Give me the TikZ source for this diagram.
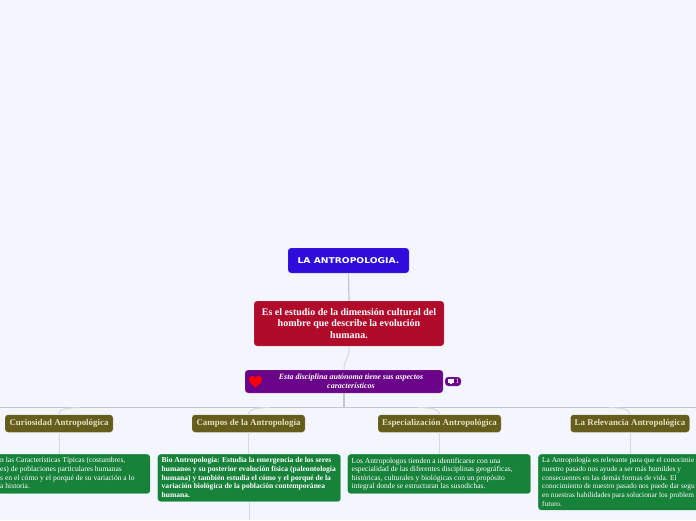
\documentclass[tikz,border=0pt]{standalone}
\usepackage{fontspec}
\setmainfont{Liberation Serif}
\newfontfamily\rootfont[FakeStretch=1.15]{DejaVu Sans}
\definecolor{fondo}{HTML}{F3F6FF}
\definecolor{raiz}{HTML}{2F0CDB}
\definecolor{rojo}{HTML}{B00B2B}
\definecolor{morado}{HTML}{6A0488}
\definecolor{oro}{HTML}{665C1B}
\definecolor{orotxt}{HTML}{E4DFC0}
\definecolor{verde}{HTML}{17823A}
\definecolor{linea}{HTML}{C3C7CE}
\definecolor{lineaclara}{HTML}{D6D9E2}
\tikzset{
  caja/.style={rounded corners=3pt,text=white,inner sep=0pt,draw=white,draw opacity=.35,line width=.4pt},
  tema/.style={caja,fill=oro,text=orotxt,font=\bfseries\fontsize{8.9}{10}\selectfont,minimum height=17.5pt},
  nota/.style={caja,fill=verde,anchor=north west},
  texto/.style={text=white,anchor=north west,align=left,inner sep=0pt,font=\fontsize{7.55}{8.65}\selectfont},
  rama/.style={draw=linea,line width=1.2pt},
  ramita/.style={draw=lineaclara,line width=1pt},
}
\begin{document}
\begin{tikzpicture}[x=1pt,y=-1pt]
\useasboundingbox[fill=fondo] (0,0) rectangle (696,520);
\clip (0,0) rectangle (696,520);

\node[caja,fill=raiz,minimum width=121pt,minimum height=25pt,font=\rootfont\bfseries\fontsize{8}{9}\selectfont] (raiz) at (348.5,260.5){LA ANTROPOLOGIA.};
\node[caja,fill=rojo,minimum width=190pt,minimum height=45pt,align=center,font=\bfseries\fontsize{10}{11.7}\selectfont] (def) at (349,323.5){Es el estudio de la dimensión cultural del\\hombre que describe la evolución\\humana.};
\node[caja,fill=morado,minimum width=198pt,minimum height=23pt] (disc) at (344,381.5){};
\node[text=white,align=center,inner sep=0pt,font=\bfseries\itshape\fontsize{8}{9.2}\selectfont] (disctxt) at (351,381.4){Esta disciplina autónoma tiene sus aspectos\\característicos};
\fill[red] (255.5,387.5) .. controls (250.5,383.5) and (249,381.5) .. (249,379.5) .. controls (249,377.3) and (250.7,376) .. (252.3,376) .. controls (253.8,376) and (255,376.8) .. (255.5,378) .. controls (256,376.8) and (257.2,376) .. (258.7,376) .. controls (260.3,376) and (262,377.3) .. (262,379.5) .. controls (262,381.5) and (260.5,383.5) .. (255.5,387.5) -- cycle;
\node[caja,fill=morado,minimum width=16pt,minimum height=9pt] (coment) at (453,381.5){};
\fill[white] (447.8,379) rectangle (453.8,383);
\fill[white] (449.8,383) rectangle (451.8,384.2);
\node[text=white,inner sep=0pt,font=\fontsize{7}{7}\selectfont] (numcom) at (457.3,381.5){1};

% barra
\coordinate (bi) at (0,407.5);
\coordinate (bd) at (696,407.5);
\coordinate (bm) at (344,407.5);
\coordinate (b1) at (80,407.5);
\coordinate (b2) at (270,407.5);
\coordinate (b3) at (418,407.5);
\coordinate (b4) at (609,407.5);

\node[tema,minimum width=108pt] (cur) at (59,423.5){Curiosidad Antropológica};
\node[tema,minimum width=113pt] (cam) at (248.5,423.5){Campos de la Antropología};
\node[tema,minimum width=123pt] (esp) at (439.5,423.5){Especialización Antropológica};
\node[tema,minimum width=119pt] (rel) at (630,423.5){La Relevancia Antropológica};

\node[nota,minimum width=160pt,minimum height=39.5pt] (n1) at (-10,454){};
\node[texto] (t1) at (0,457.5){n las Características Típicas (costumbres,\\es) de poblaciones particulares humanas\\s en el cómo y el porqué de su variación a lo\\a historia.};
\node[nota,minimum width=183pt,minimum height=47.5pt] (n2) at (157.5,454){};
\node[texto,font=\bfseries\fontsize{7.55}{8.65}\selectfont] (t2) at (161.5,457.5){Bio Antropología: Estudia la emergencia de los seres\\humanos y su posterior evolución física (paleontología\\humana) y también estudia el cómo y el porqué de la\\variación biológica de la población contemporánea\\humana.};
\node[nota,minimum width=183pt,minimum height=39.5pt] (n3) at (347.5,454){};
\node[texto] (t3) at (351.5,457.5){Los Antropologos tienden a identificarse con una\\especialidad de las diferentes disciplinas geográficas,\\históricas, culturales y biológicas con un propósito\\integral donde se estructuran las susodichas.};
\node[nota,minimum width=170pt,minimum height=56pt] (n4) at (538,454){};
\node[texto,font=\fontsize{7.35}{8.65}\selectfont] (t4) at (542,457.5){La Antropología es relevante para que el conocimie\\nuestro pasado nos ayude a ser más humildes y\\consecuentes en las demás formas de vida. El\\conocimiento de nuestro pasado nos puede dar segu\\en nuestras habilidades para solucionar los problem\\futuro.};
\coordinate (abajo) at (249,520);

\draw[rama] (raiz.south) -- (def.north);
\draw[ramita] (def.south) .. controls (349,362) and (344,358) .. (disc.north);
\draw[rama] (disc.south) -- (bm);
\draw[rama] (bi) -- (bd);
\draw[ramita] (cur.north) .. controls (59,409.5) and (64,408) .. (b1);
\draw[ramita] (cam.north) .. controls (248.5,409.5) and (254,408) .. (b2);
\draw[ramita] (esp.north) .. controls (439.5,409.5) and (434,408) .. (b3);
\draw[ramita] (rel.north) .. controls (630,409.5) and (625,408) .. (b4);
\draw[ramita] (cur.south) -- (cur.south |- n1.north);
\draw[ramita] (cam.south) -- (cam.south |- n2.north);
\draw[ramita] (esp.south) -- (esp.south |- n3.north);
\draw[ramita] (rel.south) -- (rel.south |- n4.north);
\draw[ramita] (n2.south -| abajo) -- (abajo);
\end{tikzpicture}
\end{document}
